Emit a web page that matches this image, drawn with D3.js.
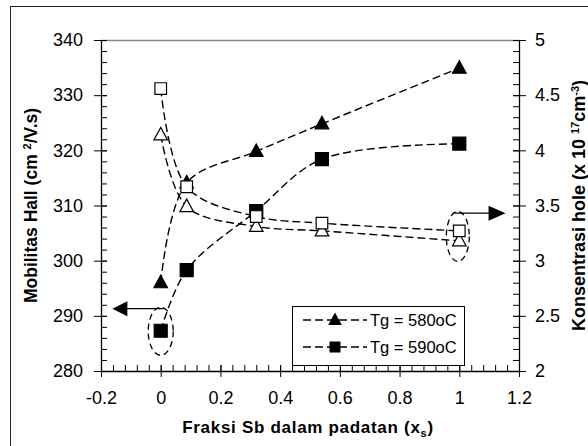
<!DOCTYPE html>
<html>
<head>
<meta charset="utf-8">
<script src="https://cdn.jsdelivr.net/npm/d3@7"></script>
<style>
  body { margin: 0; background: #fff; }
  svg { font-family: "Liberation Sans", Arial, sans-serif; }
</style>
</head>
<body>
<div id="chart"></div>
<script>
// Data
const fraksi = [0, 0.087, 0.32, 0.54, 1];
// Hall mobility (left axis), filled markers
const mob580 = [296, 314.1, 319.8, 324.8, 334.9];
const mob590 = [287.3, 298.3, 309, 318.4, 321.2];
// Hole concentration (right axis), open markers
const hole580 = [4.14, 3.49, 3.31, 3.27, 3.18];
const hole590 = [4.56, 3.67, 3.40, 3.34, 3.27];

const xTicks = [-0.2, 0, 0.2, 0.4, 0.6, 0.8, 1, 1.2];
const xTickLabels = ["-0.2", "0", "0.2", "0.4", "0.6", "0.8", "1", "1.2"];
const yLeftTicks = [280, 290, 300, 310, 320, 330, 340];
const yRightTicks = [2, 2.5, 3, 3.5, 4, 4.5, 5];
const legendLabels = ["Tg = 580oC", "Tg = 590oC"];

const W = 588, H = 446;
const margin = { top: 40, right: 69, bottom: 75, left: 101 };
const width = W - margin.left - margin.right;
const height = H - margin.top - margin.bottom;

const svg = d3.select("#chart").append("svg")
    .attr("width", W)
    .attr("height", H);

// outer frame (clipped at right/bottom like the source)
svg.append("rect")
    .attr("x", 10.5).attr("y", 6.5)
    .attr("width", 600).attr("height", 500)
    .attr("fill", "none").attr("stroke", "#222").attr("stroke-width", 1);

const g = svg.append("g")
    .attr("transform", `translate(${margin.left},${margin.top})`);

const x = d3.scaleLinear().domain([-0.2, 1.2]).range([0, width]);
const yL = d3.scaleLinear().domain([280, 340]).range([height, 0]);
const yR = d3.scaleLinear().domain([2, 5]).range([height, 0]);

// top gray border
g.append("line")
    .attr("x1", 0).attr("x2", width)
    .attr("y1", 0.5).attr("y2", 0.5)
    .attr("stroke", "#888").attr("stroke-width", 1.5);

// ---- axes ----
function styleAxis(sel) {
    sel.select(".domain").attr("stroke", "#000").attr("stroke-width", 1.3);
    sel.selectAll(".tick line").attr("stroke", "#000");
    sel.selectAll("text")
        .attr("fill", "#000")
        .style("font-size", "18px");
}

// bottom minor ticks (inside)
g.append("g")
    .attr("transform", `translate(0,${height})`)
    .call(d3.axisTop(x).tickValues(d3.range(-0.2, 1.2001, 0.04)).tickSize(6).tickFormat(""))
    .call(s => s.select(".domain").remove())
    .selectAll("line").attr("stroke", "#000");

const xAxis = g.append("g")
    .attr("transform", `translate(0,${height})`)
    .call(d3.axisBottom(x).tickValues(xTicks).tickSizeInner(6).tickSizeOuter(0).tickPadding(14)
        .tickFormat((d, i) => xTickLabels[i]));
styleAxis(xAxis);
xAxis.selectAll(".tick line").attr("y1", -6);

// left minor ticks
g.append("g")
    .call(d3.axisRight(yL).tickValues(d3.range(280, 340.01, 2)).tickSize(6).tickFormat(""))
    .call(s => s.select(".domain").remove())
    .selectAll("line").attr("stroke", "#000");

const yAxisL = g.append("g")
    .call(d3.axisLeft(yL).tickValues(yLeftTicks).tickSizeInner(7).tickSizeOuter(0).tickPadding(11));
styleAxis(yAxisL);
yAxisL.selectAll(".tick line").attr("x1", 6);

// right minor ticks
g.append("g")
    .attr("transform", `translate(${width},0)`)
    .call(d3.axisLeft(yR).tickValues(d3.range(2, 5.001, 0.1)).tickSize(6).tickFormat(""))
    .call(s => s.select(".domain").remove())
    .selectAll("line").attr("stroke", "#000");

const yAxisR = g.append("g")
    .attr("transform", `translate(${width},0)`)
    .call(d3.axisRight(yR).tickValues(yRightTicks).tickSizeInner(7).tickSizeOuter(0).tickPadding(9)
        .tickFormat(d => String(d)));
styleAxis(yAxisR);
yAxisR.selectAll(".tick line").attr("x1", -6);

// ---- axis titles ----
g.append("text")
    .attr("x", x(0.5) - 2)
    .attr("y", height + 62)
    .attr("text-anchor", "middle")
    .style("font-size", "17px")
    .style("font-weight", "bold")
    .style("letter-spacing", "0.7px")
    .call(t => {
        t.append("tspan").text("Fraksi Sb dalam padatan (x");
        t.append("tspan").attr("dy", 4).style("font-size", "11px").text("s");
        t.append("tspan").attr("dy", -4).text(")");
    });

g.append("text")
    .attr("transform", `translate(${-64},${height / 2}) rotate(-90)`)
    .attr("text-anchor", "middle")
    .style("font-size", "17.5px")
    .style("font-weight", "bold")
    .call(t => {
        t.append("tspan").text("Mobilitas Hall (cm ");
        t.append("tspan").attr("dy", -6).style("font-size", "11px").text("2");
        t.append("tspan").attr("dy", 6).text("/V.s)");
    });

g.append("text")
    .attr("transform", `translate(${width + 66},${height / 2}) rotate(-90)`)
    .attr("text-anchor", "middle")
    .style("font-size", "18px")
    .style("font-weight", "bold")
    .call(t => {
        t.append("tspan").text("Konsentrasi hole (x 10 ");
        t.append("tspan").attr("dy", -6).style("font-size", "11px").text("17");
        t.append("tspan").attr("dy", 6).text("cm");
        t.append("tspan").attr("dy", -6).style("font-size", "11px").text("-3");
        t.append("tspan").attr("dy", 6).text(")");
    });

// ---- series ----
const line = yScale => d3.line()
    .x(d => x(d[0]))
    .y(d => yScale(d[1]))
    .curve(d3.curveCatmullRom);

const series = [
    { vals: mob580, y: yL, shape: "tri", fill: "#000" },
    { vals: mob590, y: yL, shape: "sq", fill: "#000" },
    { vals: hole580, y: yR, shape: "tri", fill: "#fff" },
    { vals: hole590, y: yR, shape: "sq", fill: "#fff" }
];

const triPath = "M0,-7.5L6.8,5L-6.8,5Z";
function sqPath(s) { return `M${-s},${-s}H${s}V${s}H${-s}Z`; }

series.forEach(s => {
    const pts = fraksi.map((f, i) => [f, s.vals[i]]);
    g.append("path")
        .datum(pts)
        .attr("d", line(s.y))
        .attr("fill", "none")
        .attr("stroke", "#000")
        .attr("stroke-width", 1.4)
        .attr("stroke-dasharray", "8,4");
});

series.forEach(s => {
    const pts = fraksi.map((f, i) => [f, s.vals[i]]);
    g.selectAll(null)
        .data(pts)
        .enter()
        .append("path")
        .attr("transform", d => `translate(${x(d[0])},${s.y(d[1])})`)
        .attr("d", s.shape === "tri" ? triPath : sqPath(s.fill === "#000" ? 6.5 : 5.8))
        .attr("fill", s.fill)
        .attr("stroke", "#000")
        .attr("stroke-width", 1.2);
});

// ---- annotations: ellipses + arrows ----
const anno = g.append("g").attr("fill", "none").attr("stroke", "#000").attr("stroke-width", 1.3);

anno.append("ellipse")
    .attr("cx", x(0)).attr("cy", yL(287.2))
    .attr("rx", 12.5).attr("ry", 24)
    .attr("stroke-dasharray", "6,4");
anno.append("ellipse")
    .attr("cx", x(0.995)).attr("cy", yR(3.22))
    .attr("rx", 11.5).attr("ry", 25)
    .attr("stroke-dasharray", "6,4");

// left arrow (points to mobility axis)
const ly = yL(291.3);
anno.append("line")
    .attr("x1", x(0.012)).attr("x2", x(-0.12))
    .attr("y1", ly).attr("y2", ly);
g.append("path")
    .attr("transform", `translate(${x(-0.162)},${ly})`)
    .attr("d", "M0,0L15,-7.5L15,7.5Z")
    .attr("fill", "#000");

// right arrow (points to hole axis)
const ry = yR(3.43);
anno.append("line")
    .attr("x1", x(0.985)).attr("x2", x(1.105))
    .attr("y1", ry).attr("y2", ry);
g.append("path")
    .attr("transform", `translate(${x(1.155)},${ry})`)
    .attr("d", "M0,0L-17,-7.5L-17,7.5Z")
    .attr("fill", "#000");

// ---- legend ----
const legend = svg.append("g").attr("transform", "translate(292,306)");
legend.append("rect")
    .attr("x", 0.5).attr("y", 0.5)
    .attr("width", 172).attr("height", 59)
    .attr("fill", "#fff")
    .attr("stroke", "#000");

legendLabels.forEach((lab, i) => {
    const row = legend.append("g").attr("transform", `translate(0,${14 + i * 27})`);
    row.append("line")
        .attr("x1", 11).attr("x2", 75)
        .attr("stroke", "#000").attr("stroke-width", 1.4)
        .attr("stroke-dasharray", "8,4");
    row.append("path")
        .attr("transform", "translate(43,0)")
        .attr("d", i === 0 ? triPath : sqPath(5.5))
        .attr("fill", "#000");
    row.append("text")
        .attr("x", 78)
        .attr("y", 6)
        .style("font-size", "16.5px")
        .text(lab);
});
</script>
</body>
</html>
